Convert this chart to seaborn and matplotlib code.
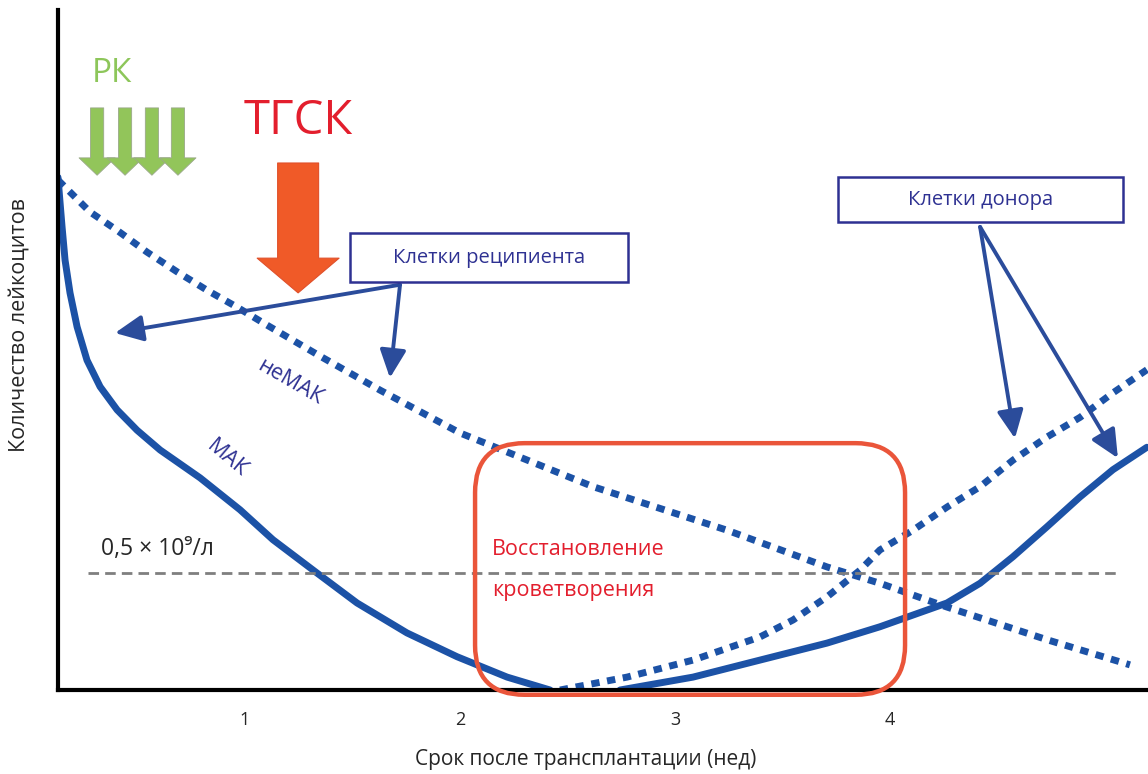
import matplotlib
matplotlib.use("Agg")
import matplotlib.pyplot as plt
import seaborn as sns
from matplotlib.patches import Rectangle, FancyBboxPatch

# кривые (недели, условное количество лейкоцитов)
mak_fall_x = [0.130, 0.149, 0.163, 0.186, 0.219, 0.265, 0.326, 0.405, 0.498, 0.605, 0.791,
              0.977, 1.130, 1.335, 1.521, 1.753, 1.986, 2.219, 2.419]
mak_fall_y = [75.4, 68.1, 63.2, 58.4, 53.4, 48.5, 44.6, 41.2, 38.2, 35.3, 31.2,
              26.5, 22.1, 17.2, 12.8, 8.4, 4.9, 1.9, 0.0]
mak_rise_x = [2.744, 3.084, 3.395, 3.707, 3.953, 4.265, 4.419, 4.572, 4.730, 4.884, 5.037, 5.195]
mak_rise_y = [0.0, 1.9, 4.4, 6.9, 9.3, 12.8, 15.7, 19.6, 24.0, 28.4, 32.4, 35.7]
nemak_x = [0.130, 0.279, 0.405, 0.544, 0.684, 0.823, 0.963, 1.084, 1.349, 1.628, 2.000,
           2.619, 3.242, 3.707, 3.953, 4.265, 4.730, 5.116]
nemak_y = [75.0, 70.3, 67.6, 64.4, 61.5, 58.8, 56.3, 54.0, 49.1, 44.1, 37.8,
           29.9, 23.5, 18.1, 15.7, 12.2, 7.4, 3.7]
donor_x = [2.465, 2.777, 3.084, 3.395, 3.549, 3.707, 3.860, 3.953, 4.107, 4.265, 4.419,
           4.572, 4.730, 4.884, 5.037, 5.195]
donor_y = [0.0, 1.9, 4.4, 7.8, 10.3, 13.7, 17.6, 20.6, 23.5, 26.9, 29.9,
           33.8, 37.2, 40.1, 43.7, 47.1]
threshold = 17.2
weeks = [1, 2, 3, 4]

blue = "#1c52a6"
navy = "#2e3192"
arrow_blue = "#2b4c9b"
red_text = "#e31e2d"

sns.set_style("white")
plt.rcParams["font.family"] = ["Open Sans", "DejaVu Sans"]

fig = plt.figure(figsize=(11.48, 7.74), dpi=100)
ax = fig.add_axes([0.0505, 0.1085, 0.9495, 0.8786])

sns.lineplot(x=mak_fall_x, y=mak_fall_y, ax=ax, color=blue, lw=5, sort=False)
sns.lineplot(x=mak_rise_x, y=mak_rise_y, ax=ax, color=blue, lw=5, sort=False)
l1 = sns.lineplot(x=nemak_x, y=nemak_y, ax=ax, color=blue, lw=5, sort=False).lines[-1]
l1.set_dashes((1.2, 1.1))
l2 = sns.lineplot(x=donor_x, y=donor_y, ax=ax, color=blue, lw=5, sort=False).lines[-1]
l2.set_dashes((1.2, 1.1))

ax.axhline(threshold, xmin=0.0275, xmax=0.974, color="#7f7f7f", lw=2, dashes=(3.8, 2.2))

ax.set_xlim(0.130, 5.200)
ax.set_ylim(0, 100)
ax.set_xticks(weeks)
ax.set_xticklabels([str(w) for w in weeks], fontsize=13)
ax.tick_params(axis="x", length=0, pad=15)
ax.set_yticks([])
for s in ["top", "right"]:
    ax.spines[s].set_visible(False)
for s in ["left", "bottom"]:
    ax.spines[s].set_linewidth(3)
    ax.spines[s].set_color("black")
ax.set_xlabel("Срок после трансплантации (нед)", fontsize=15)
ax.set_ylabel("Количество лейкоцитов", fontsize=15.5)
ax.xaxis.set_label_coords(0.484, -0.086)
ax.yaxis.set_label_coords(-0.026, 0.537)

# зона восстановления
box = FancyBboxPatch((2.070, -0.7), 2.0, 37.0, boxstyle="round,pad=0,rounding_size=0.23",
                     mutation_aspect=215 / 6.8, fill=False, ec="#ea553a", lw=3.2,
                     zorder=5, clip_on=False)
ax.add_patch(box)
ax.text(2.149, 20.7, "Восстановление", color=red_text, fontsize=15.5, va="center")
ax.text(2.149, 14.6, "кроветворения", color=red_text, fontsize=15.5, va="center")

ax.text(0.33, 20.8, "0,5 × 10⁹/л", fontsize=16.5, va="center", ha="left")
ax.text(1.209, 45.3, "неМАК", color=navy, fontsize=15.5, rotation=-30, ha="center", va="center")
ax.text(0.916, 34.1, "МАК", color=navy, fontsize=15.5, rotation=-40, ha="center", va="center")

# подписи-рамки
ax.add_patch(Rectangle((1.488, 60.0), 1.293, 7.2, fill=False, ec=navy, lw=1.8, zorder=4))
ax.text(2.135, 63.6, "Клетки реципиента", color=navy, fontsize=14.5, ha="center", va="center")
ax.add_patch(Rectangle((3.758, 68.8), 1.326, 6.6, fill=False, ec=navy, lw=1.8, zorder=4))
ax.text(4.42, 72.1, "Клетки донора", color=navy, fontsize=14.5, ha="center", va="center")

thin = dict(arrowstyle="-|>,head_length=0.85,head_width=0.4", color=arrow_blue, lw=2.8,
            mutation_scale=20, shrinkA=0, shrinkB=0)
ax.annotate("", xy=(0.395, 52.5), xytext=(1.721, 59.6), arrowprops=thin)
ax.annotate("", xy=(1.674, 45.9), xytext=(1.721, 59.6), arrowprops=thin)
ax.annotate("", xy=(4.581, 37.0), xytext=(4.419, 68.1), arrowprops=thin)
ax.annotate("", xy=(5.060, 34.1), xytext=(4.419, 68.1), arrowprops=thin)

# ТГСК
ax.text(1.247, 83.7, "ТГСК", color=red_text, fontsize=34, ha="center", va="center")
ax.annotate("", xy=(1.247, 58.4), xytext=(1.247, 77.5),
            arrowprops=dict(arrowstyle="simple,head_length=2.5,head_width=5.9,tail_width=2.95",
                            fc="#f05a28", ec="#e0502a", lw=0.8, mutation_scale=10,
                            shrinkA=0, shrinkB=0))

# РК
ax.text(0.381, 90.6, "РК", color="#8dc65a", fontsize=24, ha="center", va="center")
for gx in [0.312, 0.442, 0.567, 0.688]:
    ax.annotate("", xy=(gx, 75.7), xytext=(gx, 85.6),
                arrowprops=dict(arrowstyle="simple,head_length=1.25,head_width=2.6,tail_width=0.95",
                                fc="#92c55a", ec="#9aa88a", lw=0.6, mutation_scale=10,
                                shrinkA=0, shrinkB=0))

fig.savefig("out.png", dpi=100)
